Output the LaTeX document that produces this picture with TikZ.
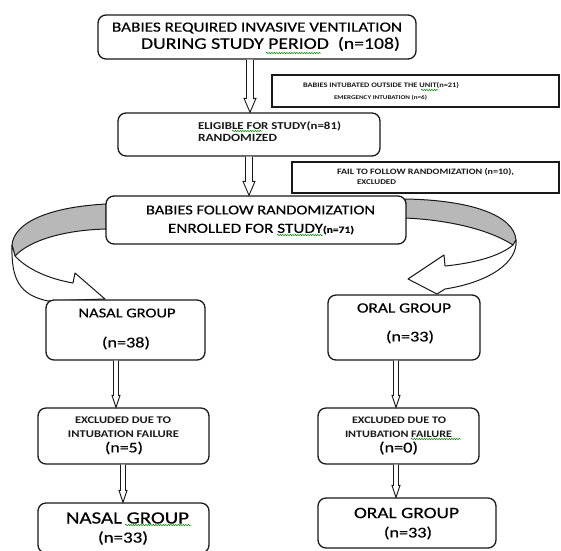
\documentclass[tikz,border=0pt]{standalone}
\usepackage{fontspec}
\setmainfont{Carlito}[FakeStretch=1.22]
\newfontfamily\medfont{Carlito}[FakeStretch=1.22, FakeBold=0.4]
\usetikzlibrary{calc,decorations.pathmorphing}
\newcommand\fw[2]{\resizebox{#1pt}{!}{#2}}
\tikzset{
  box/.style={draw=black!90, line width=1.3pt, rounded corners=8pt, fill=white, inner sep=0pt},
  sqbox/.style={draw=black!90, line width=1.2pt, fill=white, inner sep=0pt},
  txt/.style={inner sep=0pt, text=black, font=\medfont},
  stxt/.style={inner sep=0pt, text=black!90, font=\bfseries},
  spell/.style={draw=green!55!black, line width=0.5pt, decorate,
    decoration={snake, amplitude=0.7pt, segment length=2.5pt}},
  band/.style={draw=black!90, line width=1pt, line join=round},
  harr/.style={draw=black!90, line width=0.9pt, fill=white, line join=miter},
}
% hollow arrow: start, end, half shaft, half head, head length
\newcommand\harrow[5]{\path[harr] let \p1=(#1), \p2=(#2) in
  (\x1-#3pt,\y1) -- (\x1-#3pt,\y2+#5pt) -- (\x1-#4pt,\y2+#5pt) -- (\x1,\y2)
  -- (\x1+#4pt,\y2+#5pt) -- (\x1+#3pt,\y2+#5pt) -- (\x1+#3pt,\y1);}
\begin{document}
\begin{tikzpicture}[x=1pt,y=-1pt]
\useasboundingbox (0,0) rectangle (561,550);
\clip (0,0) rectangle (561,550);

% curved arrows (back bands in grey, front bands white)
\path[band, fill=black!28] (106,204) .. controls (50,207) and (14,222) .. (12,245)
  -- (15,256) .. controls (30,240) and (65,230) .. (106,229) -- cycle;
\path[band, fill=white] (15,256) .. controls (28,270) and (50,279) .. (73,283)
  -- (75,273) -- (105,299) -- (48,301) .. controls (20,295) and (11,280) .. (12,245) -- cycle;
\path[band, fill=black!28] (405,199) .. controls (470,200) and (514,215) .. (516,240)
  -- (513,245) .. controls (490,230) and (450,220) .. (405,218) -- cycle;
\path[band, fill=white] (513,245) .. controls (500,256) and (475,263) .. (445,266)
  -- (444,255) -- (408,279) -- (437,294) -- (445,289)
  .. controls (490,282) and (518,262) .. (516,240) -- cycle;

% boxes
\node[box, minimum width=318pt, minimum height=44pt] (b1) at (257,37) {};
\node[sqbox, minimum width=287pt, minimum height=32pt] (bA) at (415.5,91) {};
\node[box, minimum width=262pt, minimum height=43pt] (b2) at (249,134.5) {};
\node[sqbox, minimum width=267pt, minimum height=31pt] (bB) at (425.5,177.5) {};
\node[box, minimum width=300pt, minimum height=48pt] (b3) at (256,220) {};
\node[box, minimum width=159pt, minimum height=60pt] (bN) at (125.5,330) {};
\node[box, minimum width=152pt, minimum height=65pt] (bO) at (404,327.5) {};
\node[box, minimum width=171pt, minimum height=56pt] (bEN) at (123.5,436) {};
\node[box, minimum width=161pt, minimum height=56pt] (bEO) at (398.5,436) {};
\node[box, minimum width=171pt, minimum height=50pt] (bFN) at (123.5,528) {};
\node[box, minimum width=178pt, minimum height=50pt] (bFO) at (407,523) {};

% arrow columns
\coordinate (c1) at (250,0);
\coordinate (c2) at (249,0);
\coordinate (c3) at (116,0);
\coordinate (c4) at (396,0);
\coordinate (c5) at (123,0);
\harrow{c1 |- b1.south}{c1 |- b2.north}{3.5}{6}{14}
\harrow{c2 |- b2.south}{c2 |- b3.north}{3.5}{6}{14}
\harrow{c3 |- bN.south}{c3 |- bEN.north}{2.5}{4}{12}
\harrow{c4 |- bO.south}{c4 |- bEO.north}{2.5}{4}{12}
\harrow{c5 |- bEN.south}{c5 |- bFN.north}{2.5}{4}{12}
\harrow{c4 |- bEO.south}{c4 |- bFO.north}{2.5}{4}{12}

% texts
\node[txt] (t1a) at (257,28) {\fw{290}{BABIES REQUIRED INVASIVE VENTILATION}};
\node[txt] (t1b) at (270.5,44) {\fw{259}{DURING STUDY PERIOD\ \ (n=108)}};
\node[stxt] (tAa) at (381,85) {\fw{156}{BABIES INTUBATED OUTSIDE THE UNIT(n=21)}};
\node[stxt] (tAb) at (380.5,98) {\fw{93}{EMERGENCY INTUBATION (n=6)}};
\node[stxt] (t2a) at (269.5,126) {\fw{143}{ELIGIBLE FOR STUDY(n=81)}};
\node[stxt] (t2b) at (237.5,138) {\fw{79}{RANDOMIZED}};
\node[stxt] (tBa) at (425.5,172) {\fw{177}{FAIL TO FOLLOW RANDOMIZATION (n=10),}};
\node[stxt] (tBb) at (376.5,182) {\fw{39}{EXCLUDED}};
\node[txt] (t3a) at (260.5,210) {\fw{229}{BABIES FOLLOW RANDOMIZATION}};
\node[txt] (t3b) at (261,229) {\fw{155}{ENROLLED FOR STUDY}\fw{31}{\bfseries(n=71)}};
\node[txt] (tNa) at (127,313) {\fw{97}{NASAL GROUP}};
\node[txt] (tNb) at (126,343) {\fw{48}{(n=38)}};
\node[txt] (tOa) at (404,308) {\fw{94}{ORAL GROUP}};
\node[txt] (tOb) at (410,337) {\fw{48}{(n=33)}};
\node[stxt] (tENa) at (123,420) {\fw{96}{EXCLUDED DUE TO}};
\node[stxt] (tENb) at (123.5,434) {\fw{111}{INTUBATION FAILURE}};
\node[txt] (tENc) at (124,448) {\fw{38}{(n=5)}};
\node[stxt] (tEOa) at (399,420) {\fw{94}{EXCLUDED DUE TO}};
\node[stxt] (tEOb) at (398.5,434) {\fw{107}{INTUBATION FAILURE}};
\node[txt] (tEOc) at (398.5,448) {\fw{39}{(n=0)}};
\node[txt] (tFNa) at (127.5,518) {\fw{123}{NASAL GROUP}};
\node[txt] (tFNb) at (123,538) {\fw{50}{(n=33)}};
\node[txt] (tFOa) at (406.5,513) {\fw{105}{ORAL GROUP}};
\node[txt] (tFOb) at (408,533) {\fw{48}{(n=33)}};

% spell-check squiggles
\path[spell] (266,53) -- (321,53);
\path[spell] (232,131) -- (262,131);
\path[spell] (421,90) -- (438,90);
\path[spell] (277,235) -- (323,235);
\path[spell] (125,525) -- (191,525);
\path[spell] (411,439) -- (461,439);
\end{tikzpicture}
\end{document}
